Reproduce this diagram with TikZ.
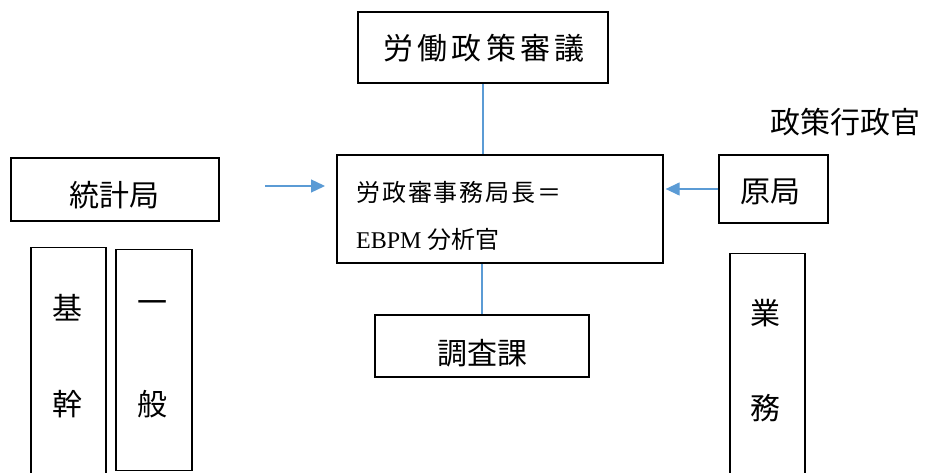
\documentclass[tikz,border=0pt]{standalone}
\usepackage{fontspec}
\setmainfont{Liberation Serif}
\newfontfamily\jp{Noto Sans CJK JP}
\usetikzlibrary{arrows.meta}
\definecolor{lineblue}{RGB}{91,155,213}
\tikzset{
  box/.style={draw=black, line width=1.3pt, rectangle, inner sep=0pt},
  thickbox/.style={draw=black, line width=2.6pt, rectangle, inner sep=0pt},
  lbl/.style={inner sep=0pt, font=\jp\fontsize{30}{30}\selectfont},
  conn/.style={draw=lineblue, line width=1.3pt},
  arr/.style={conn, -{Triangle[length=14pt,width=13pt]}}
}
\begin{document}
\begin{tikzpicture}[x=1pt,y=-1pt]
\useasboundingbox (0,0) rectangle (932,473);
\clip (0,0) rectangle (932,473);
% boxes
\node[thickbox, minimum width=250pt, minimum height=71pt] (top) at (483,47.5) {};
\node[lbl, font=\jp\fontsize{30}{30}\selectfont\addfontfeature{LetterSpace=14}] (toplbl) at (484,48) {労働政策審議};
\node[box, minimum width=326pt, minimum height=108pt] (ctr) at (500,209) {};
\node[inner sep=0pt, anchor=west, font=\jp\fontsize{24}{24}\selectfont\addfontfeature{LetterSpace=8}] (ctr1) at (356,192) {労政審事務局長＝};
\node[inner sep=0pt, anchor=west, font=\fontsize{24}{24}\selectfont] (ctr2) at (356,239) {EBPM {\jp 分析官}};
\node[thickbox, minimum width=214pt, minimum height=62pt] (sub) at (482,346) {};
\node[lbl] (sublbl) at (482.5,353) {調査課};
\node[box, minimum width=208pt, minimum height=63pt] (stat) at (115,189.5) {};
\node[lbl] (statlbl) at (114,195) {統計局};
\node[box, minimum width=109pt, minimum height=68pt] (gen) at (773.5,189) {};
\node[lbl] (genlbl) at (770,192) {原局};
\node[lbl] (pol) at (845.5,122) {政策行政官};
% tall boxes
\node[box, minimum width=75pt, minimum height=260pt, anchor=north] (kikan) at (68.5,247) {};
\node[lbl] (ki) at (67,308) {基};
\node[lbl] (kan) at (67,404) {幹};
\node[box, minimum width=76pt, minimum height=221pt, anchor=north] (ippan) at (154,249) {};
\node[lbl] (ichi) at (152,307) {一};
\node[lbl] (han) at (152,404) {般};
\node[box, minimum width=75pt, minimum height=260pt, anchor=north] (gyomu) at (767.5,253) {};
\node[lbl] (gyo) at (765,313) {業};
\node[lbl] (mu) at (765,408) {務};
% connectors
\draw[conn] (top.south) -- (top.south |- ctr.north);
\draw[conn] (sub.north) -- (sub.north |- ctr.south);
\coordinate (a1s) at (265,186);
\coordinate (a1e) at (325,186);
\draw[arr] (a1s) -- (a1e);
\draw[arr] (gen.west) -- ([xshift=2pt]ctr.east |- gen.west);
\end{tikzpicture}
\end{document}
